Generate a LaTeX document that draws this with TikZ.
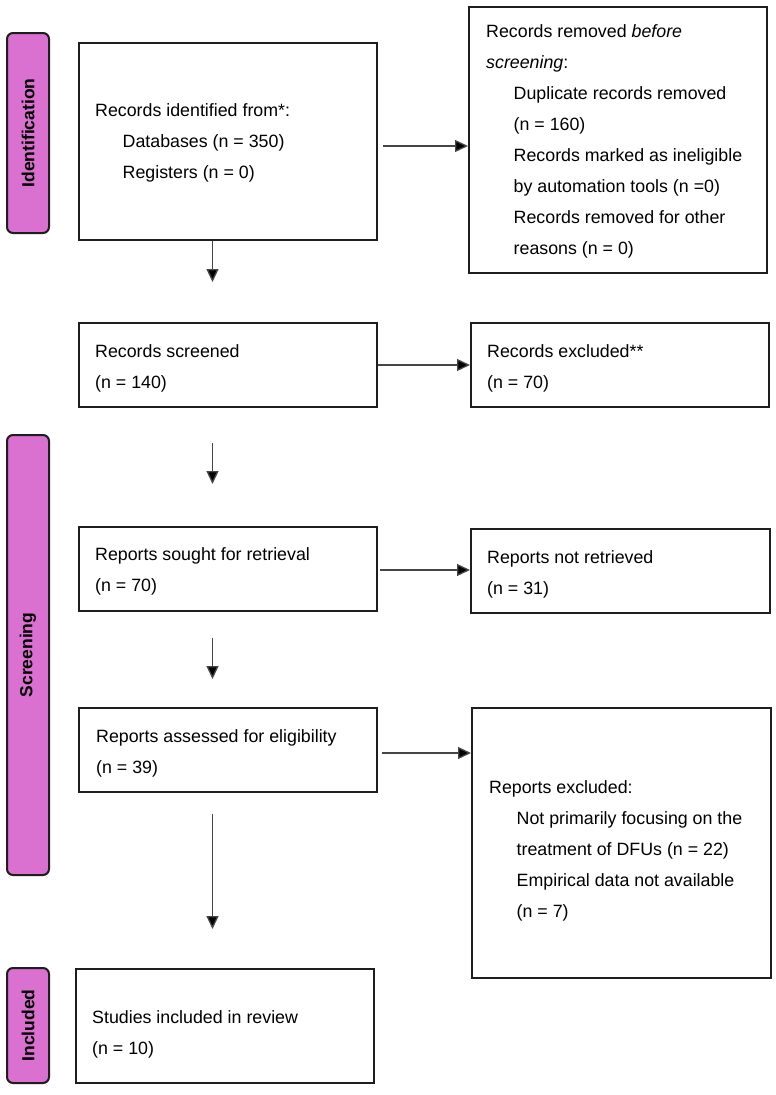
\documentclass[tikz,border=0pt]{standalone}
\usepackage{fontspec}
\setmainfont{Liberation Sans}
\usetikzlibrary{arrows.meta}
\definecolor{pill}{RGB}{218,112,208}
\definecolor{boxline}{RGB}{30,30,30}
\definecolor{arrline}{RGB}{70,70,70}
\tikzset{
  box/.style={draw=boxline, line width=2pt, minimum width=298pt, inner sep=0pt, anchor=center},
  pillbox/.style={draw=boxline, line width=2pt, fill=pill, rounded corners=6pt, minimum width=42pt, inner sep=0pt, anchor=center},
  pilltext/.style={rotate=90, font=\fontsize{17.5}{20}\selectfont\bfseries, text=black},
  txt/.style={anchor=base west, inner sep=0pt, font=\fontsize{17.8}{31}\selectfont},
  arr/.style={draw=arrline, line width=1.3pt, -{Triangle[length=13pt,width=12pt,fill=black]}}
}
\newcommand{\ind}{\hspace*{27.5pt}}
\begin{document}
\begin{tikzpicture}[x=1pt,y=-1pt]
\useasboundingbox[fill=white] (0,0) rectangle (776,1095);
% phase pills
\node[pillbox, minimum height=200pt] (pid) at (28,133) {};
\node[pilltext] (tid) at (pid.center) {Identification};
\node[pillbox, minimum height=440pt] (psc) at (28,655) {};
\node[pilltext] (tsc) at (psc.center) {Screening};
\node[pillbox, minimum height=115pt] (pin) at (28,1025.5) {};
\node[pilltext] (tin) at (pin.center) {Included};
% boxes
\node[box, minimum height=197pt] (ident) at (228,141.5) {};
\node[box, minimum height=266pt] (removed) at (618,140) {};
\node[box, minimum height=84pt] (screened) at (228,365) {};
\node[box, minimum height=84pt] (excl) at (620,365) {};
\node[box, minimum height=84pt] (sought) at (228,569) {};
\node[box, minimum height=84pt, minimum width=299pt] (notret) at (620.5,571) {};
\node[box, minimum height=84pt] (assessed) at (228,750) {};
\node[box, minimum height=270pt, minimum width=299pt] (repexcl) at (621.5,843) {};
\node[box, minimum height=114pt] (included) at (225,1026) {};
% texts
\node[txt] (t1) at (95,116) {\parbox[t]{270pt}{Records identified from*:\\\ind Databases (n = 350)\\\ind Registers (n = 0)}};
\node[txt] (t2) at (486,37) {\parbox[t]{280pt}{Records removed \textit{before}\\\textit{screening}:\\\ind Duplicate records removed\\\ind (n = 160)\\\ind Records marked as ineligible\\\ind by automation tools (n =0)\\\ind Records removed for other\\\ind reasons (n = 0)}};
\node[txt] (t3) at (95,357) {\parbox[t]{270pt}{Records screened\\(n = 140)}};
\node[txt] (t4) at (487,357) {\parbox[t]{270pt}{Records excluded**\\(n = 70)}};
\node[txt] (t5) at (95,560) {\parbox[t]{270pt}{Reports sought for retrieval\\(n = 70)}};
\node[txt] (t6) at (487,563) {\parbox[t]{270pt}{Reports not retrieved\\(n = 31)}};
\node[txt] (t7) at (96,742) {\parbox[t]{270pt}{Reports assessed for eligibility\\(n = 39)}};
\node[txt] (t8) at (489,793) {\parbox[t]{280pt}{Reports excluded:\\\ind Not primarily focusing on the\\\ind treatment of DFUs (n = 22)\\\ind Empirical data not available\\\ind (n = 7)}};
\node[txt] (t9) at (92,1023) {\parbox[t]{270pt}{Studies included in review\\(n = 10)}};
% connectors
\coordinate (ax) at (212.5,0);
\draw[arr, shorten <=5pt] ([yshift=-4.5pt]ident.east) -- ([yshift=-4.5pt]ident.east -| removed.west);
\draw[arr] (ident.south -| ax) -- ([yshift=40pt]screened.north -| ax);
\draw[arr] (screened.east) -- (screened.east -| excl.west);
\draw[arr, shorten <=2pt] ([yshift=-1pt]sought.east) -- ([yshift=-1pt]sought.east -| notret.west);
\draw[arr, shorten <=35pt] (screened.south -| ax) -- ([yshift=42pt]sought.north -| ax);
\draw[arr, shorten <=26pt] (sought.south -| ax) -- ([yshift=28pt]assessed.north -| ax);
\draw[arr, shorten <=4pt] ([yshift=-3pt]assessed.east) -- ([yshift=-3pt]assessed.east -| repexcl.west);
\draw[arr, shorten <=21pt] (assessed.south -| ax) -- ([yshift=39pt]included.north -| ax);
\end{tikzpicture}
\end{document}
